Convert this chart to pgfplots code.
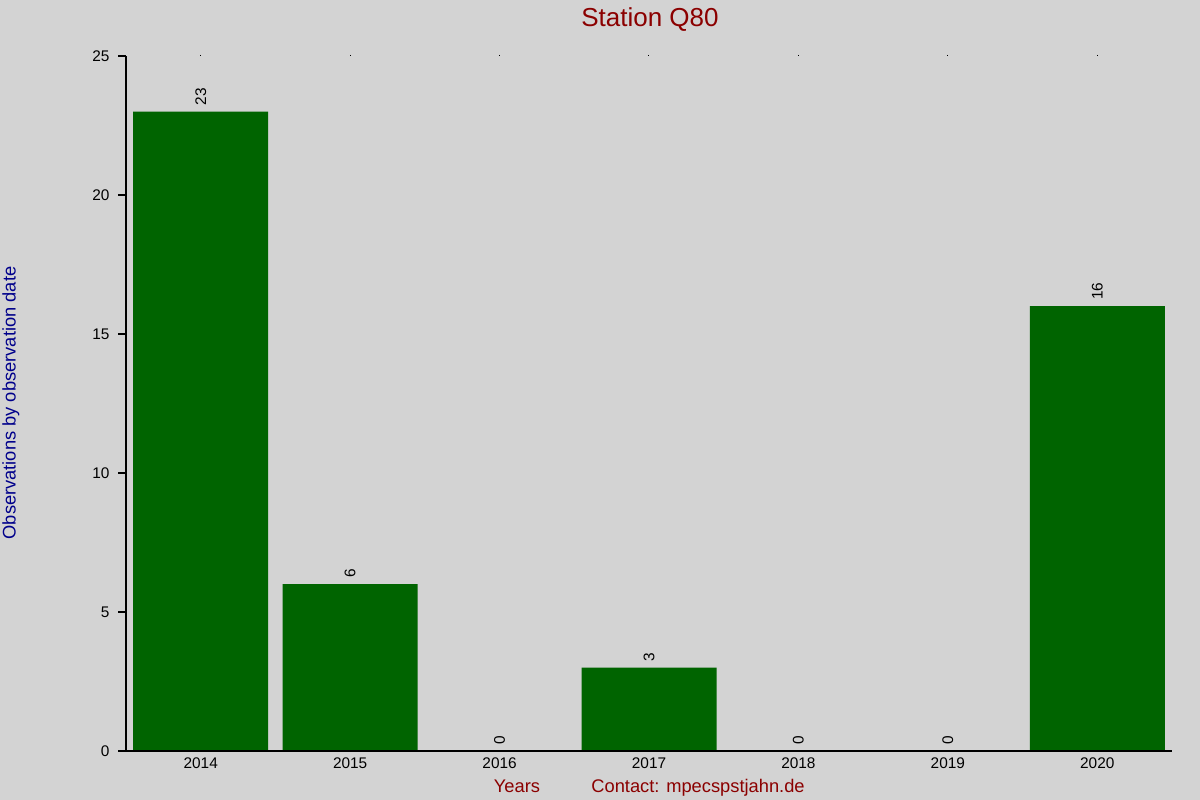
\documentclass[border=0pt]{standalone}
\usepackage{pgfplots}
\pgfplotsset{compat=1.18}
\usepackage{fontspec}
\setmainfont{Liberation Sans}
\definecolor{bg}{HTML}{D3D3D3}
\definecolor{bargreen}{HTML}{006400}
\definecolor{titlered}{HTML}{8B0000}
\definecolor{labelblue}{HTML}{00008B}

\begin{document}
\begin{tikzpicture}
\fill[bg] (0,0) rectangle (600bp,400bp);
\begin{axis}[
    at={(63bp,24.5bp)}, anchor=south west,
    scale only axis, width=523bp, height=347.5bp,
    ybar, bar width=67.5bp,
    xmin=2013.5, xmax=2020.5,
    ymin=0, ymax=25,
    xtick={2014,...,2020},
    ytick={0,5,10,15,20,25},
    xticklabels={},
    /pgf/number format/assume math mode=true,
    /pgf/number format/1000 sep={},
    axis line style={draw=none},
    tick align=outside,
    xtick pos=right, ytick pos=left,
    xtick style={black, line width=0.5bp, /pgfplots/major tick length=0.6bp},
    ytick style={black, line width=0.6bp, /pgfplots/major tick length=4bp},
    ticklabel style={font=\fontsize{7.7bp}{9bp}\selectfont},
    yticklabel style={xshift=-0.5bp},
    nodes near coords,
    every node near coord/.append style={rotate=90, anchor=west, xshift=3bp,
        inner sep=0pt, font=\fontsize{7.7bp}{9bp}\selectfont},
    clip=false,
]
\addplot[fill=bargreen, draw=none] coordinates {
    (2014,23) (2015,6) (2016,0) (2017,3) (2018,0) (2019,0) (2020,16)
};
\draw[black, line width=0.6bp] ([xshift=-4bp]rel axis cs:0,0) -- (rel axis cs:1,0);
\draw[black, line width=0.6bp] (rel axis cs:0,0) -- (rel axis cs:0,1);
\foreach \yr in {2014,...,2020} {
    \edef\tmp{\noexpand\node[anchor=north, inner sep=0pt, font=\noexpand\fontsize{7.7bp}{9bp}\noexpand\selectfont]
        at ([yshift=-3.2bp]axis cs:\yr,0) {\yr};}
    \tmp
}
\end{axis}
\node[anchor=base, text=titlered, font=\fontsize{13bp}{15bp}\selectfont] at (325bp,386.5bp) {Station Q80};
\node[anchor=base, text=titlered, font=\fontsize{9.15bp}{10bp}\selectfont] at (258.5bp,3.6bp) {Years};
\node[anchor=base west, inner sep=0pt, text=titlered, font=\fontsize{9.15bp}{10bp}\selectfont] at (295.5bp,3.6bp) {Contact: mpecspstjahn.de};
\node[rotate=90, inner sep=0pt, text=labelblue, font=\fontsize{9.15bp}{10bp}\selectfont] at (5.5bp,198.5bp) {Observations by observation date};
\end{tikzpicture}
\end{document}
